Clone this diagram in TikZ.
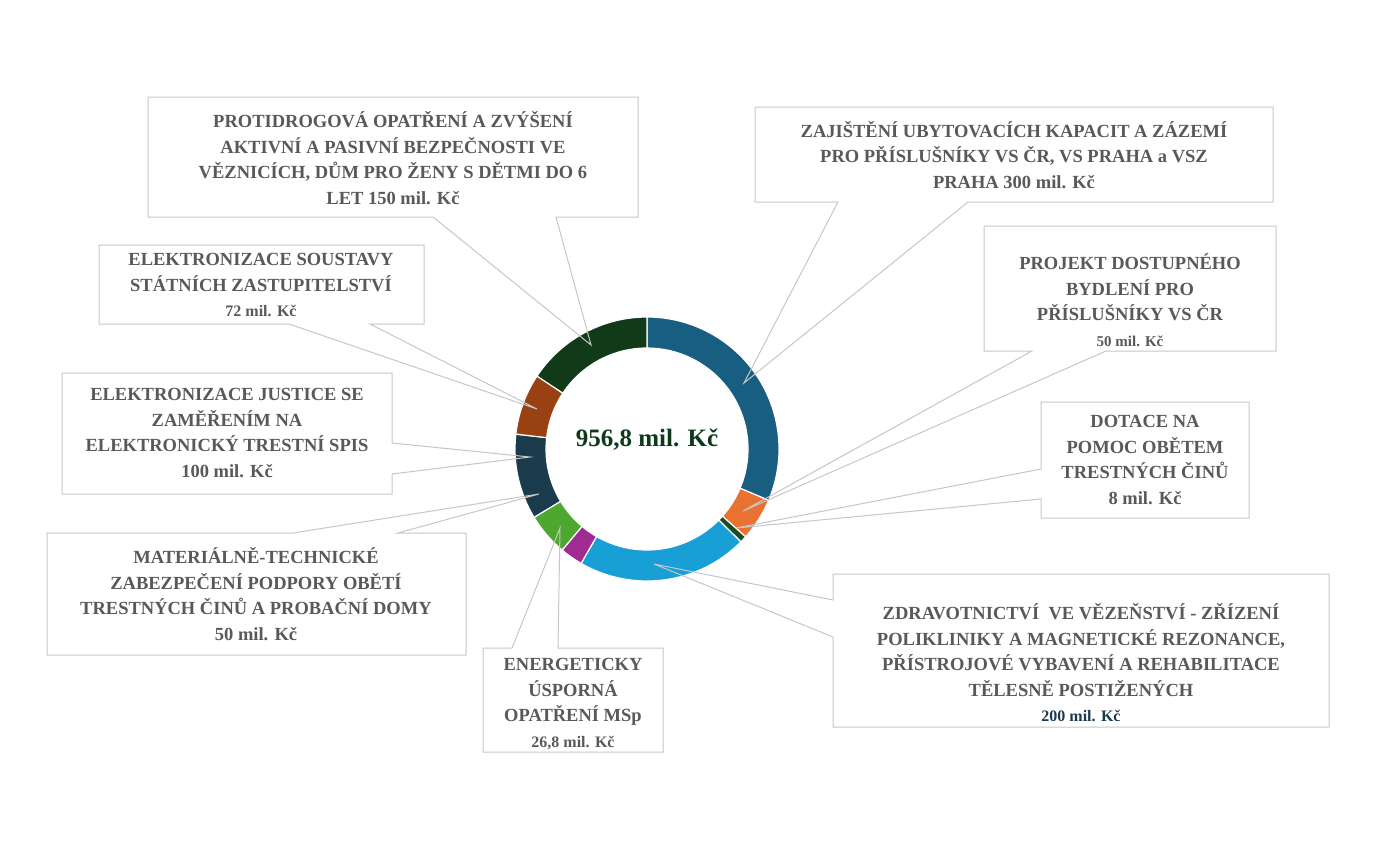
\documentclass[tikz,border=0pt]{standalone}
\usepackage{fontspec}
\setmainfont{Liberation Serif}
\usetikzlibrary{calc}
\begin{document}
\begin{tikzpicture}[x=1pt,y=-1pt,
  co/.style={draw=black!22,line width=1pt,fill=white,line join=miter},
  lab/.style={align=center,font=\fontsize{18.5}{25.5}\selectfont\bfseries,text=black!65,inner sep=0pt},
  seg/.style={draw=white,line width=1.2pt}]
\useasboundingbox (0,0) rectangle (1399,865);
\def\callouts{
\path[co] (148,97) -- (638,97) -- (638,217) -- (556,217) -- (591,345) -- (433,217) -- (148,217) -- cycle;
\path[co] (755,107) -- (1273,107) -- (1273,202) -- (968,202) -- (744,383) -- (838,202) -- (755,202) -- cycle;
\path[co] (984,226) -- (1276,226) -- (1276,351) -- (1106,351) -- (743,511) -- (1032,351) -- (984,351) -- cycle;
\path[co] (1041,402) -- (1249,402) -- (1249,518) -- (1041,518) -- (1041,499) -- (736,528) -- (1041,469) -- cycle;
\path[co] (833,574) -- (1329,574) -- (1329,727) -- (833,727) -- (833,637) -- (654,564) -- (833,600) -- cycle;
\path[co] (483,648) -- (512,648) -- (560,528) -- (558,648) -- (663,648) -- (663,752) -- (483,752) -- cycle;
\path[co] (47,533) -- (293,533) -- (539,494) -- (398,533) -- (466,533) -- (466,655) -- (47,655) -- cycle;
\path[co] (62,373) -- (392,373) -- (392,443) -- (530,457) -- (392,474) -- (392,494) -- (62,494) -- cycle;
\path[co] (99,245) -- (424,245) -- (424,324) -- (370,324) -- (537,409) -- (289,324) -- (99,324) -- cycle;
}
% fills
\begin{scope}[co/.append style={draw=none}] \callouts \end{scope}
% donut
\coordinate (c) at (647,449);
\foreach \a/\b/\col in {-90/22.88/175E80, 22.88/41.69/E97132, 41.69/44.70/1B4D22, 44.70/119.95/189FD6, 119.95/130.03/A02B93, 130.03/148.84/4EA72E, 148.84/186.47/1A3B4B, 186.47/213.56/9A4114, 213.56/270/113B18}{
  \definecolor{sc}{HTML}{\col}
  \path[seg,fill=sc] ($(c)+(\a:132)$) arc[start angle=\a,end angle=\b,radius=132] -- ($(c)+(\b:101)$) arc[start angle=\b,end angle=\a,radius=101] -- cycle;
}
% outlines
\begin{scope}[co/.append style={fill=none}] \callouts \end{scope}
\node[font=\fontsize{25}{30}\selectfont\bfseries,text={rgb,255:red,14;green,58;blue,26}] (tot) at (647,440) {956,8 mil. Kč};
\node[lab] (l1) at (393,158) {PROTIDROGOVÁ OPATŘENÍ A ZVÝŠENÍ\\AKTIVNÍ A PASIVNÍ BEZPEČNOSTI VE\\VĚZNICÍCH, DŮM PRO ŽENY S DĚTMI DO 6\\LET 150 mil. Kč};
\node[lab] (l2) at (1014,155) {ZAJIŠTĚNÍ UBYTOVACÍCH KAPACIT A ZÁZEMÍ\\PRO PŘÍSLUŠNÍKY VS ČR, VS PRAHA a VSZ\\PRAHA 300 mil. Kč};
\node[lab] (l3) at (1130,300) {PROJEKT DOSTUPNÉHO\\BYDLENÍ PRO\\PŘÍSLUŠNÍKY VS ČR\\{\fontsize{15}{25}\selectfont 50 mil. Kč}};
\node[lab] (l4) at (1145,460) {DOTACE NA\\POMOC OBĚTEM\\TRESTNÝCH ČINŮ\\8 mil. Kč};
\node[lab] (l5) at (1081,663) {ZDRAVOTNICTVÍ \ VE VĚZEŇSTVÍ - ZŘÍZENÍ\\POLIKLINIKY A MAGNETICKÉ REZONANCE,\\PŘÍSTROJOVÉ VYBAVENÍ A REHABILITACE\\TĚLESNĚ POSTIŽENÝCH\\{\fontsize{16}{30}\selectfont\color[HTML]{1E3A4A}200 mil. Kč}};
\node[lab] (l6) at (573,704) {ENERGETICKY\\ÚSPORNÁ\\OPATŘENÍ MSp\\{\fontsize{16}{25}\selectfont 26,8 mil. Kč}};
\node[lab] (l7) at (256,594) {MATERIÁLNĚ-TECHNICKÉ\\ZABEZPEČENÍ PODPORY OBĚTÍ\\TRESTNÝCH ČINŮ A PROBAČNÍ DOMY\\50 mil. Kč};
\node[lab] (l8) at (227,433) {ELEKTRONIZACE JUSTICE SE\\ZAMĚŘENÍM NA\\ELEKTRONICKÝ TRESTNÍ SPIS\\100 mil. Kč};
\node[lab] (l9) at (261,285) {ELEKTRONIZACE SOUSTAVY\\STÁTNÍCH ZASTUPITELSTVÍ\\{\fontsize{16}{25}\selectfont 72 mil. Kč}};
\end{tikzpicture}
\end{document}
